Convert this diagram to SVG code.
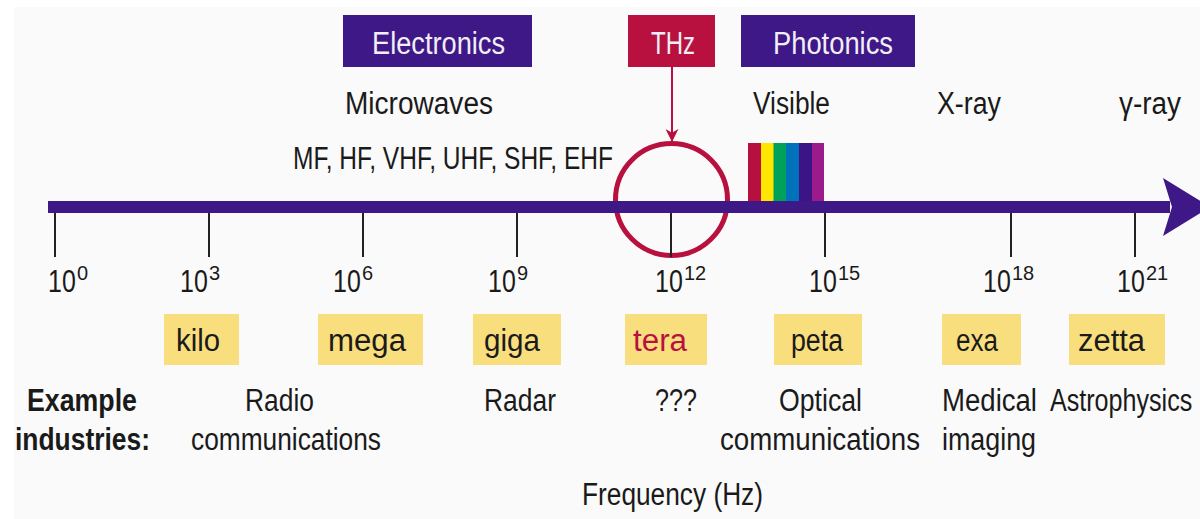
<svg xmlns="http://www.w3.org/2000/svg" width="1200" height="519" viewBox="0 0 1200 519">
<defs>
<style>
text{font-family:"Liberation Sans",Arial,sans-serif;font-size:31px;fill:#1a1a1a}
.box{fill:#3d1886}
.thz{fill:#b8113f}
.wt{fill:#f2eef5}
.yel{fill:#f9de7e}
.tick{stroke:#222;stroke-width:2}
.b{font-weight:bold}
.num{font-size:32px}
.sup{font-size:20px}
</style>
<marker id="ah" viewBox="0 0 14 14" refX="13" refY="7" markerWidth="13" markerHeight="13" markerUnits="userSpaceOnUse" orient="auto">
<path d="M0,0 L14,7 L0,14 L4,7 Z" fill="#b8113f"/>
</marker>
</defs>
<rect width="1200" height="519" fill="#ffffff"/>
<rect x="14" y="7" width="1186" height="512" fill="#fafafb"/>

<g id="connectors">
<line x1="672" y1="67" x2="672" y2="141" stroke="#b8113f" stroke-width="2" marker-end="url(#ah)"/>
</g>

<g id="thz-circle">
<circle cx="671.5" cy="199.5" r="56" fill="none" stroke="#b8113f" stroke-width="5"/>
</g>

<g id="visible-spectrum">
<rect x="748" y="143" width="13" height="60" fill="#b5103f"/>
<rect x="761" y="143" width="13" height="60" fill="#ffe500"/>
<rect x="773.5" y="143" width="13" height="60" fill="#00a15a"/>
<rect x="786" y="143" width="13" height="60" fill="#0072bc"/>
<rect x="799" y="143" width="13" height="60" fill="#3b1585"/>
<rect x="812" y="143" width="12" height="60" fill="#9b1b8c"/>
</g>

<g id="axis">
<rect x="48" y="201" width="1122" height="12" class="box"/>
<polygon points="1163,178 1210,207 1163,236 1172,207" class="box"/>
<line class="tick" x1="55" y1="213" x2="55" y2="257"/>
<line class="tick" x1="209" y1="213" x2="209" y2="257"/>
<line class="tick" x1="363" y1="213" x2="363" y2="257"/>
<line class="tick" x1="517" y1="213" x2="517" y2="257"/>
<line class="tick" x1="671" y1="213" x2="671" y2="257"/>
<line class="tick" x1="825" y1="213" x2="825" y2="257"/>
<line class="tick" x1="1011" y1="213" x2="1011" y2="257"/>
<line class="tick" x1="1135" y1="213" x2="1135" y2="257"/>
</g>

<g id="electronics">
<rect x="343" y="15" width="189" height="52" class="box"/>
<text x="372" y="54" class="wt" textLength="133" lengthAdjust="spacingAndGlyphs">Electronics</text>
</g>
<g id="thz">
<rect x="628" y="15" width="87" height="52" class="thz"/>
<text x="651" y="54" class="wt" textLength="44" lengthAdjust="spacingAndGlyphs">THz</text>
</g>
<g id="photonics">
<rect x="741" y="15" width="174" height="52" class="box"/>
<text x="773" y="54" class="wt" textLength="120" lengthAdjust="spacingAndGlyphs">Photonics</text>
</g>

<g id="bands">
<text x="345" y="114" textLength="148" lengthAdjust="spacingAndGlyphs">Microwaves</text>
<text x="753" y="114" textLength="77" lengthAdjust="spacingAndGlyphs">Visible</text>
<text x="937" y="114" textLength="64" lengthAdjust="spacingAndGlyphs">X-ray</text>
<text x="1119" y="114" textLength="62" lengthAdjust="spacingAndGlyphs">γ-ray</text>
<text x="293" y="169" textLength="320" lengthAdjust="spacingAndGlyphs">MF, HF, VHF, UHF, SHF, EHF</text>
</g>

<g id="tick-labels">
<text class="num" transform="translate(48,292) scale(0.78,1)">10</text>
<text class="sup" x="77" y="280">0</text>
<text class="num" transform="translate(180,292) scale(0.78,1)">10</text>
<text class="sup" x="209" y="280">3</text>
<text class="num" transform="translate(333,292) scale(0.78,1)">10</text>
<text class="sup" x="362" y="280">6</text>
<text class="num" transform="translate(488,292) scale(0.78,1)">10</text>
<text class="sup" x="517" y="280">9</text>
<text class="num" transform="translate(655,292) scale(0.78,1)">10</text>
<text class="sup" x="684" y="280">12</text>
<text class="num" transform="translate(809,292) scale(0.78,1)">10</text>
<text class="sup" x="838" y="280">15</text>
<text class="num" transform="translate(983,292) scale(0.78,1)">10</text>
<text class="sup" x="1012" y="280">18</text>
<text class="num" transform="translate(1117,292) scale(0.78,1)">10</text>
<text class="sup" x="1146" y="280">21</text>
</g>

<g id="kilo"><rect x="164" y="314" width="75" height="51" class="yel"/><text x="176" y="351" textLength="44" lengthAdjust="spacingAndGlyphs">kilo</text></g>
<g id="mega"><rect x="318" y="314" width="105" height="51" class="yel"/><text x="328" y="351" textLength="78" lengthAdjust="spacingAndGlyphs">mega</text></g>
<g id="giga"><rect x="473" y="314" width="88" height="51" class="yel"/><text x="484" y="351" textLength="56" lengthAdjust="spacingAndGlyphs">giga</text></g>
<g id="tera"><rect x="625" y="314" width="82" height="51" class="yel"/><text x="633" y="351" textLength="54" lengthAdjust="spacingAndGlyphs" style="fill:#b8113f">tera</text></g>
<g id="peta"><rect x="774" y="314" width="88" height="51" class="yel"/><text x="791" y="351" textLength="52" lengthAdjust="spacingAndGlyphs">peta</text></g>
<g id="exa"><rect x="942" y="314" width="79" height="51" class="yel"/><text x="956" y="351" textLength="42" lengthAdjust="spacingAndGlyphs">exa</text></g>
<g id="zetta"><rect x="1069" y="314" width="96" height="51" class="yel"/><text x="1078" y="351" textLength="67" lengthAdjust="spacingAndGlyphs">zetta</text></g>

<g id="industries">
<text x="27" y="411" class="b" textLength="110" lengthAdjust="spacingAndGlyphs">Example</text>
<text x="15" y="450" class="b" textLength="135" lengthAdjust="spacingAndGlyphs">industries:</text>
<text x="245" y="411" textLength="69" lengthAdjust="spacingAndGlyphs">Radio</text>
<text x="191" y="450" textLength="190" lengthAdjust="spacingAndGlyphs">communications</text>
<text x="484" y="411" textLength="72" lengthAdjust="spacingAndGlyphs">Radar</text>
<text x="655" y="411" textLength="42" lengthAdjust="spacingAndGlyphs">???</text>
<text x="779" y="411" textLength="83" lengthAdjust="spacingAndGlyphs">Optical</text>
<text x="720" y="450" textLength="200" lengthAdjust="spacingAndGlyphs">communications</text>
<text x="942" y="411" textLength="95" lengthAdjust="spacingAndGlyphs">Medical</text>
<text x="942" y="450" textLength="94" lengthAdjust="spacingAndGlyphs">imaging</text>
<text transform="translate(1050,411) scale(0.81,1)">Astrophysics</text>
</g>

<g id="axis-title">
<text x="582" y="505" textLength="181" lengthAdjust="spacingAndGlyphs">Frequency (Hz)</text>
</g>
</svg>
